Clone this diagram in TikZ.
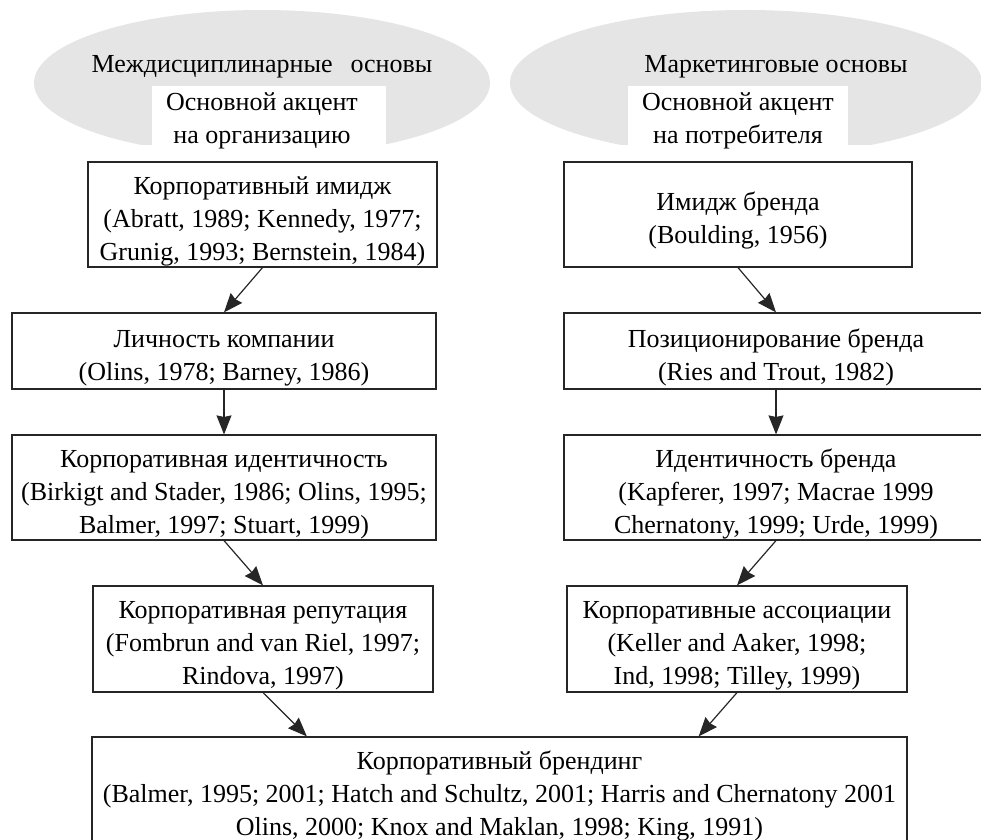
\documentclass[tikz,border=0pt]{standalone}
\usepackage{fontspec}
\setmainfont{Liberation Serif}
\usepackage{tikz}
\usetikzlibrary{arrows.meta,calc,positioning}
\definecolor{ovalgray}{gray}{0.9}
\definecolor{linegray}{gray}{0.15}
\newcommand{\lift}{\rule{0pt}{15.5pt}}

\begin{document}
\begin{tikzpicture}[x=0.5pt,y=-0.5pt,
        box/.style={draw=linegray,line width=0.6pt,align=center,inner sep=0pt,font=\fontsize{13}{16.5}\selectfont},
        focus/.style={align=center,inner sep=0pt,font=\fontsize{13}{16.5}\selectfont},
        arr/.style={-{Stealth[length=9.5pt,width=7.5pt,inset=0.8pt]},line width=0.6pt,linegray}]
        \def\px{0.5pt}
        \useasboundingbox (0,0) rectangle (981,840);
        \clip (0,0) rectangle (981,840);
        %Ovals
        \begin{scope}
          \clip (0,0) rectangle (981,145);
          \fill[ovalgray] (262,83) ellipse [x radius=228, y radius=73];
          \fill[ovalgray] (746,83) ellipse [x radius=236, y radius=73];
        \end{scope}
        \fill[white] (152,86) rectangle (386,145);
        \fill[white] (628,86) rectangle (848,145);
        \node[focus] (ltitle) at (262,67) {Междисциплинарные\hspace{9pt}основы};
        \node[focus] (rtitle) at (776,67) {Маркетинговые основы};
        \node[focus] (lfocus) at (262,121) {Основной акцент\\на организацию};
        \node[focus] (rfocus) at (738,121) {Основной акцент\\на потребителя};
        %Left column
        \node[box,minimum width=349*\px,minimum height=105*\px] (cimage) at (262.5,214.5) {\lift Корпоративный имидж\\(Abratt, 1989; Kennedy, 1977;\\Grunig, 1993; Bernstein, 1984)};
        \node[box,minimum width=424*\px,minimum height=76*\px] (cpers) at (224,351) {\lift Личность компании\\(Olins, 1978; Barney, 1986)};
        \node[box,minimum width=424*\px,minimum height=105*\px] (cident) at (224,487.5) {\lift Корпоративная идентичность\\(Birkigt and Stader, 1986; Olins, 1995;\\Balmer, 1997; Stuart, 1999)};
        \node[box,minimum width=340*\px,minimum height=106*\px] (crep) at (263,639) {\lift Корпоративная репутация\\(Fombrun and van Riel, 1997;\\Rindova, 1997)};
        %Right column
        \node[box,minimum width=348*\px,minimum height=105*\px] (bimage) at (738,214.5) {\lift Имидж бренда\\(Boulding, 1956)};
        \node[box,minimum width=424*\px,minimum height=76*\px] (bpos) at (776,351) {\lift Позиционирование бренда\\(Ries and Trout, 1982)};
        \node[box,minimum width=424*\px,minimum height=105*\px] (bident) at (776,487.5) {\lift Идентичность бренда\\(Kapferer, 1997; Macrae 1999\\Chernatony, 1999; Urde, 1999)};
        \node[box,minimum width=340*\px,minimum height=106*\px] (cassoc) at (737,639) {\lift Корпоративные ассоциации\\(Keller and Aaker, 1998;\\Ind, 1998; Tilley, 1999)};
        %Bottom
        \node[box,minimum width=815*\px,minimum height=105*\px] (cbrand) at (499.5,789.5) {\lift Корпоративный брендинг\\(Balmer, 1995; 2001; Hatch and Schultz, 2001; Harris and Chernatony 2001\\Olins, 2000; Knox and Maklan, 1998; King, 1991)};
        %Arrows
        \draw[arr] (cimage.south) -- (cpers.north);
        \draw[arr] (cpers.south) -- (cident.north);
        \draw[arr] (cident.south) -- (crep.north);
        \draw[arr] (crep.south) -- ($(cbrand.north west)!0.264!(cbrand.north east)$);
        \draw[arr] (bimage.south) -- (bpos.north);
        \draw[arr] (bpos.south) -- (bident.north);
        \draw[arr] (bident.south) -- (cassoc.north);
        \draw[arr] (cassoc.south) -- ($(cbrand.north west)!0.744!(cbrand.north east)$);
      \end{tikzpicture}
\end{document}
